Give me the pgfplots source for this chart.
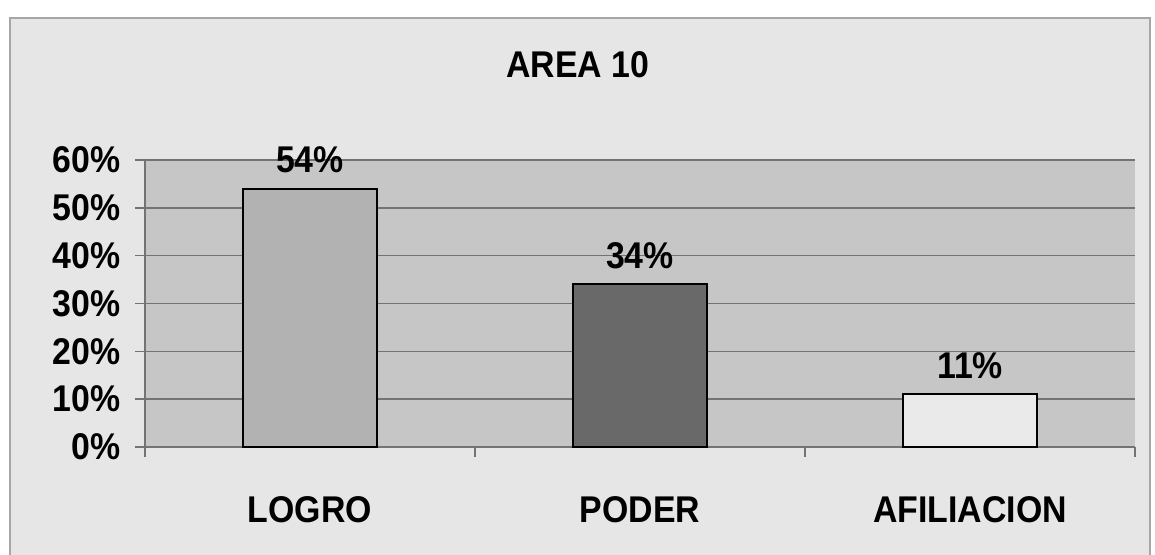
\documentclass[border=0pt]{standalone}
\usepackage{pgfplots}
\pgfplotsset{compat=1.18}
\usepackage{fontspec}
\setmainfont{Liberation Sans}[FakeStretch=0.91]
\definecolor{outerbg}{RGB}{230,230,230}
\definecolor{plotbg}{RGB}{198,198,198}
\definecolor{gridc}{RGB}{115,115,115}
\definecolor{cLogro}{RGB}{178,178,178}
\definecolor{cPoder}{RGB}{105,105,105}
\definecolor{cAfil}{RGB}{234,234,234}
\newcommand{\chartfont}{\bfseries\fontsize{18.6}{22}\selectfont}
\begin{document}
\begin{tikzpicture}
\useasboundingbox (-72.5pt,-53.5pt) rectangle (505pt,223.5pt);
\fill[white] (-72.5pt,-53.5pt) rectangle (505pt,223.5pt);
\filldraw[fill=outerbg, draw=gray!70, line width=1pt] (-67.5pt,-60pt) rectangle (502.5pt,214.5pt);
\begin{axis}[
  at={(0,0)}, anchor=south west,
  scale only axis, width=495pt, height=143.5pt,
  xmin=-0.5, xmax=2.5, ymin=0, ymax=60,
  axis background/.style={fill=plotbg},
  axis line style={gridc, line width=0.8pt},
  ybar, bar width=67pt, bar shift=0pt,
  xtick={0,1,2}, xticklabels={LOGRO,PODER,AFILIACION},
  minor xtick={-0.5,0.5,1.5,2.5},
  major x tick style={draw=none},
  minor x tick style={gridc, line width=0.8pt},
  minor tick length=5pt,
  tick align=outside,
  ytick={0,10,20,30,40,50,60},
  major y tick style={gridc, line width=0.8pt},
  major tick length=5pt,
  ymajorgrids, grid style={gridc, line width=0.8pt},
  yticklabel={\pgfmathprintnumber{\tick}\%},
  /pgf/number format/assume math mode=true,
  ticklabel style={font=\chartfont},
  yticklabel style={xshift=-3.8pt},
  xticklabel style={anchor=center, yshift=-26.5pt},
  axis x line*=bottom, axis y line*=left,
  nodes near coords={\pgfmathprintnumber{\pgfplotspointmeta}\%},
  nodes near coords style={font=\chartfont, yshift=4pt, /pgf/number format/assume math mode=true},
  clip=false,
]
\addplot[fill=cLogro, draw=black, line width=1pt] coordinates {(0,54)};
\addplot[fill=cPoder, draw=black, line width=1pt] coordinates {(1,34)};
\addplot[fill=cAfil, draw=black, line width=1pt] coordinates {(2,11)};
\node[font=\chartfont] at (rel axis cs:0.437,1.331) {AREA 10};
\end{axis}
\end{tikzpicture}
\end{document}
